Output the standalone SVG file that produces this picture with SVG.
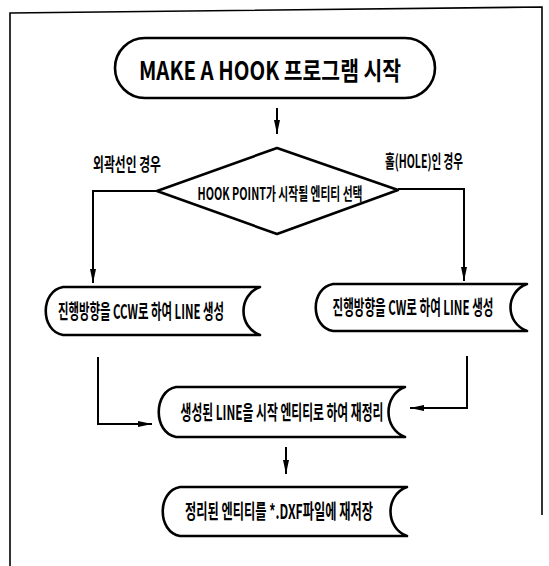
<svg xmlns="http://www.w3.org/2000/svg" width="549" height="566" viewBox="0 0 549 566">
<style>
.s{fill:#fff;stroke:#000;stroke-width:2.6;stroke-linejoin:round}
.c{fill:none;stroke:#000;stroke-width:2}
.t{font-family:"Noto Sans CJK KR","Noto Sans",sans-serif;font-weight:bold;fill:#000;text-anchor:middle;dominant-baseline:central}
</style>
<defs>
<marker id="a" viewBox="0 0 14 6" refX="14" refY="3" markerWidth="14" markerHeight="6" markerUnits="userSpaceOnUse" orient="auto">
<path d="M0,0 L14,3 L0,6 Z" fill="#000"/>
</marker>
</defs>
<rect width="549" height="566" fill="#fff"/>
<g id="frame" fill="none" stroke="#000" stroke-width="1.6">
<path d="M10,566 V13 L542,7 V515"/>
</g>
<g id="connectors">
<path class="c" d="M277,108 V134" marker-end="url(#a)"/>
<path class="c" d="M157,191 H93 V283" marker-end="url(#a)"/>
<path class="c" d="M398,189 H464 V281" marker-end="url(#a)"/>
<path class="c" d="M98,357 V424 H152" marker-end="url(#a)"/>
<path class="c" d="M467,356 V408 H410" marker-end="url(#a)"/>
<path class="c" d="M286,447 V474" marker-end="url(#a)"/>
</g>
<g id="start">
<rect class="s" x="115" y="38" width="320" height="60" rx="30" ry="30"/>
<text class="t" transform="translate(270,69) scale(0.6,1)" font-size="25" textLength="437" lengthAdjust="spacingAndGlyphs">MAKE A HOOK 프로그램 시작</text>
</g>
<g id="decision">
<path class="s" d="M277,148 L398,190 L277,234 L157,191 Z"/>
<text class="t" transform="translate(280,193) scale(0.6,1)" font-size="17" textLength="275" lengthAdjust="spacingAndGlyphs">HOOK POINT가 시작될 엔티티 선택</text>
</g>
<g id="label-left">
<text class="t" transform="translate(127,163) scale(0.6,1)" font-size="18" textLength="113" lengthAdjust="spacingAndGlyphs">외곽선인 경우</text>
</g>
<g id="label-right">
<text class="t" transform="translate(424,160) scale(0.6,1)" font-size="18" textLength="130" lengthAdjust="spacingAndGlyphs">홀(HOLE)인 경우</text>
</g>
<g id="ccw">
<path class="s" d="M63,287 H260 C238,295 238,327 260,335 H63 C40,331 40,291 63,287 Z"/>
<text class="t" transform="translate(141,311) scale(0.6,1)" font-size="20" textLength="277" lengthAdjust="spacingAndGlyphs">진행방향을 CCW로 하여 LINE 생성</text>
</g>
<g id="cw">
<path class="s" d="M333,284 H527 C505,292 505,323 527,331 H333 C310,327 310,288 333,284 Z"/>
<text class="t" transform="translate(413,307) scale(0.6,1)" font-size="20" textLength="268" lengthAdjust="spacingAndGlyphs">진행방향을 CW로 하여 LINE 생성</text>
</g>
<g id="reorder">
<path class="s" d="M176,387 H405 C383,395 383,429 405,437 H176 C153,433 153,391 176,387 Z"/>
<text class="t" transform="translate(282,412) scale(0.6,1)" font-size="20" textLength="338" lengthAdjust="spacingAndGlyphs">생성된 LINE을 시작 엔티티로 하여 재정리</text>
</g>
<g id="save">
<path class="s" d="M180,487 H407 C385,495 385,528 407,536 H180 C157,532 157,491 180,487 Z"/>
<text class="t" transform="translate(279,511) scale(0.6,1)" font-size="20" textLength="313" lengthAdjust="spacingAndGlyphs">정리된 엔티티를 *.DXF파일에 재저장</text>
</g>
</svg>
